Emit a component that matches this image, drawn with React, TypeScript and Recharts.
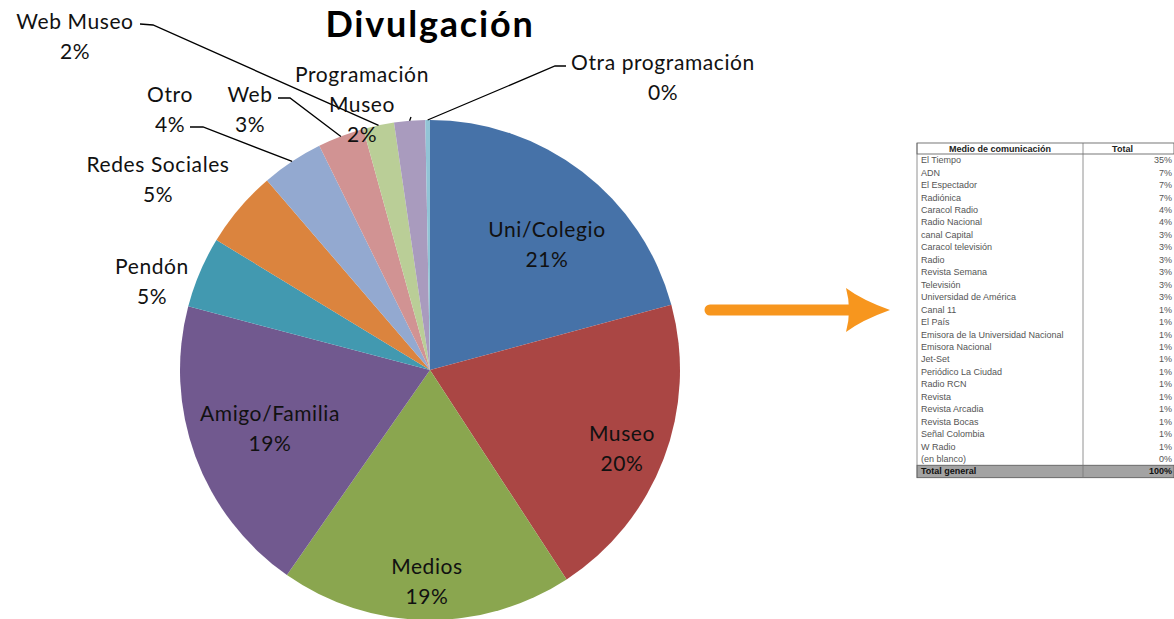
import React from 'react';
import { PieChart, Pie, Cell } from 'recharts';

const categories = ['Uni/Colegio', 'Museo', 'Medios', 'Amigo/Familia', 'Pendón', 'Redes Sociales', 'Otro', 'Web', 'Web Museo', 'Programación Museo', 'Otra programación'];
const values = [20.8, 20.0, 18.9, 19.4, 4.6, 5.0, 4.0, 3.0, 2.0, 2.0, 0.3];
const colors = ['#4672A8', '#AA4644', '#8AA64F', '#71598F', '#4299B0', '#DB843E', '#93A9D0', '#D19393', '#BACE97', '#A99BBE', '#92C4D6'];

const tableMedios = ['El Tiempo', 'ADN', 'El Espectador', 'Radiónica', 'Caracol Radio', 'Radio Nacional', 'canal Capital', 'Caracol televisión', 'Radio', 'Revista Semana', 'Televisión', 'Universidad de América', 'Canal 11', 'El País', 'Emisora de la Universidad Nacional', 'Emisora Nacional', 'Jet-Set', 'Periódico La Ciudad', 'Radio RCN', 'Revista', 'Revista Arcadia', 'Revista Bocas', 'Señal Colombia', 'W Radio', '(en blanco)'];
const tablePct = ['35%', '7%', '7%', '7%', '4%', '4%', '3%', '3%', '3%', '3%', '3%', '3%', '1%', '1%', '1%', '1%', '1%', '1%', '1%', '1%', '1%', '1%', '1%', '1%', '0%'];
const tableHeader = ['Medio de comunicación', 'Total'];
const tableTotal = ['Total general', '100%'];

const data = categories.map((name, i) => ({ name, value: values[i] }));

// label layout: offsets relative to pie centre (dx, dy of first line centre); leader = points relative to centre
const LABEL_LAYOUT: Record<number, { dx: number; dy: number; lines: 'name' | 'split'; leader?: [number, number][] }> = {
  0: { dx: 117, dy: -142, lines: 'name' },
  1: { dx: 192, dy: 62, lines: 'name' },
  2: { dx: -3, dy: 195, lines: 'name' },
  3: { dx: -160, dy: 42, lines: 'name' },
  4: { dx: -278, dy: -105, lines: 'name' },
  5: { dx: -272, dy: -207, lines: 'name' },
  6: { dx: -260, dy: -277, lines: 'name', leader: [[-240, -243], [-227, -243]] },
  7: { dx: -180, dy: -277, lines: 'name', leader: [[-152, -272], [-140, -272]] },
  8: { dx: -355, dy: -350, lines: 'name', leader: [[-290, -346], [-277, -345]] },
  9: { dx: -68, dy: -297, lines: 'split', leader: [[-19, -253]] },
  10: { dx: 233, dy: -309, lines: 'name', leader: [[136, -304], [125, -304]] },
};

const RAD = Math.PI / 180;
const FONT = 'Lato, "Noto Sans", sans-serif';

const renderLabel = (props: any) => {
  const { cx, cy, midAngle, outerRadius, index, percent, name } = props;
  const lay = LABEL_LAYOUT[index];
  if (!lay) return null;
  const pct = `${Math.round(percent * 100)}%`;
  const lines = lay.lines === 'split' ? [...name.split(' '), pct] : [name, pct];
  const x = cx + lay.dx;
  const y = cy + lay.dy;
  let leader = null;
  if (lay.leader) {
    const ex = cx + outerRadius * Math.cos(-midAngle * RAD);
    const ey = cy + outerRadius * Math.sin(-midAngle * RAD);
    const pts = lay.leader.map(([a, b]) => `${cx + a},${cy + b}`).join(' ') + ` ${ex},${ey}`;
    leader = <polyline points={pts} fill="none" stroke="#000" strokeWidth={1.3} />;
  }
  return (
    <g key={`lbl-${index}`}>
      {leader}
      {lines.map((t, k) => (
        <text key={k} x={x} y={y + k * 30} textAnchor="middle" dominantBaseline="central" fontFamily={FONT} fontSize={21} letterSpacing={0.6} fill="#111">
          {t}
        </text>
      ))}
    </g>
  );
};

const TABLE_X = 917;
const TABLE_DIV = 1083;
const TABLE_R = 1174;
const TABLE_TOP = 143;
const HEAD_H = 11;
const ROW_H = 12.45;

export default function App() {
  const rowsTop = TABLE_TOP + HEAD_H;
  const totalY = rowsTop + tableMedios.length * ROW_H;
  return (
    <div style={{ position: 'absolute', left: 0, top: 0, width: 1174, height: 619, background: '#fff', overflow: 'hidden' }}>
      <PieChart width={1174} height={619} margin={{ top: 0, right: 0, bottom: 0, left: 0 }}>
        <Pie
          data={data}
          dataKey="value"
          nameKey="name"
          cx={430}
          cy={370}
          outerRadius={250}
          startAngle={90}
          endAngle={-270}
          label={renderLabel}
          labelLine={false}
          isAnimationActive={false}
          stroke="none"
        >
          {data.map((d, i) => (
            <Cell key={d.name} fill={colors[i]} />
          ))}
        </Pie>
      </PieChart>
      <svg width={1174} height={619} style={{ position: 'absolute', left: 0, top: 0, pointerEvents: 'none' }}>
        <text x={430} y={23} textAnchor="middle" dominantBaseline="central" fontFamily={FONT} fontWeight={700} fontSize={36} letterSpacing={1.8} fill="#000">
          Divulgación
        </text>
        {/* arrow */}
        <line x1={710} y1={310} x2={852} y2={310} stroke="#F7961E" strokeWidth={11} strokeLinecap="round" />
        <path d="M846,288 Q862,300 890,310 Q862,320 846,332 Q852,310 846,288 Z" fill="#F7961E" />
        {/* table */}
        <g fontFamily='"Liberation Sans", Arial, sans-serif' fontSize={9}>
          <rect x={TABLE_X} y={TABLE_TOP} width={TABLE_R - TABLE_X} height={HEAD_H} fill="#fff" stroke="#555" strokeWidth={0.8} />
          <text x={(TABLE_X + TABLE_DIV) / 2} y={TABLE_TOP + HEAD_H / 2} textAnchor="middle" dominantBaseline="central" fill="#222" fontWeight={700}>
            {tableHeader[0]}
          </text>
          <text x={(TABLE_DIV + TABLE_R) / 2 - 6} y={TABLE_TOP + HEAD_H / 2} textAnchor="middle" dominantBaseline="central" fill="#222" fontWeight={700}>
            {tableHeader[1]}
          </text>
          {tableMedios.map((m, i) => (
            <g key={m}>
              <text x={TABLE_X + 4} y={rowsTop + i * ROW_H + ROW_H / 2} dominantBaseline="central" fill="#555">
                {m}
              </text>
              <text x={TABLE_R - 2} y={rowsTop + i * ROW_H + ROW_H / 2} textAnchor="end" dominantBaseline="central" fill="#555">
                {tablePct[i]}
              </text>
            </g>
          ))}
          <rect x={TABLE_X} y={totalY} width={TABLE_R - TABLE_X} height={ROW_H} fill="#A3A3A3" stroke="#555" strokeWidth={0.8} />
          <text x={TABLE_X + 4} y={totalY + ROW_H / 2} dominantBaseline="central" fill="#111" fontWeight={700}>
            {tableTotal[0]}
          </text>
          <text x={TABLE_R - 2} y={totalY + ROW_H / 2} textAnchor="end" dominantBaseline="central" fill="#111" fontWeight={700}>
            {tableTotal[1]}
          </text>
          <line x1={TABLE_X} y1={TABLE_TOP} x2={TABLE_X} y2={totalY + ROW_H} stroke="#777" strokeWidth={0.8} />
          <line x1={TABLE_DIV} y1={TABLE_TOP} x2={TABLE_DIV} y2={totalY + ROW_H} stroke="#777" strokeWidth={0.8} />
        </g>
      </svg>
    </div>
  );
}
